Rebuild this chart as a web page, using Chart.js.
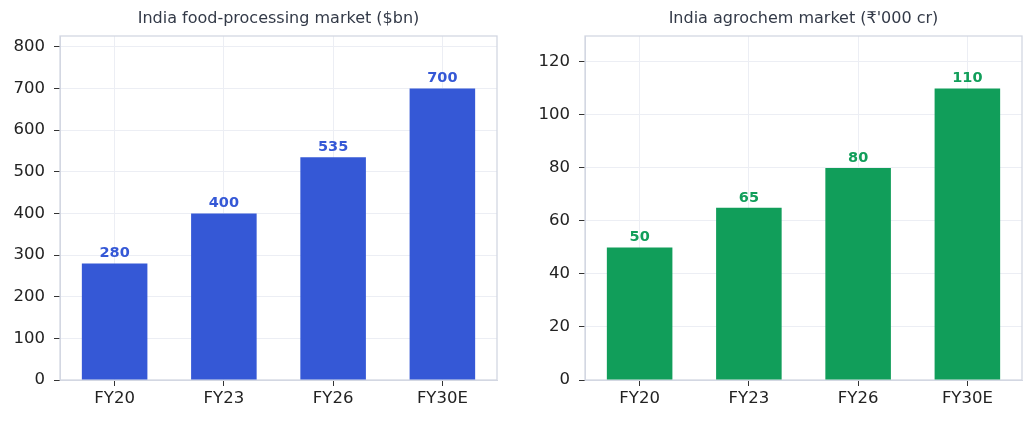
<!DOCTYPE html>
<html>
<head>
<script src="https://cdn.jsdelivr.net/npm/chart.js@4"></script>
<style>
  body { margin: 0; background: #fff; }
  #wrap { position: relative; width: 1035px; height: 423px; }
  canvas { position: absolute; top: 0; }
</style>
</head>
<body>
<div id="wrap">
  <canvas id="left" width="517" height="423" style="left:0"></canvas>
  <canvas id="right" width="518" height="423" style="left:517px"></canvas>
</div>
<script>
// data
const years = ['FY20', 'FY23', 'FY26', 'FY30E'];
const foodValues = [280, 400, 535, 700];
const agroValues = [50, 65, 80, 110];
const foodTitle = 'India food-processing market ($bn)';
const agroTitle = "India agrochem market (₹'000 cr)";

const FONT = "'DejaVu Sans', sans-serif";

// full frame around plot area + value labels above bars
const framePlugin = {
  id: 'frame',
  beforeDatasetsDraw(chart) {
    const a = chart.chartArea, c = chart.ctx;
    c.save();
    c.strokeStyle = '#d3d7e2';
    c.lineWidth = 1.3;
    c.strokeRect(a.left, a.top, a.right - a.left, a.bottom - a.top);
    c.restore();
  },
  afterDatasetsDraw(chart) {
    const c = chart.ctx;
    const ds = chart.data.datasets[0];
    c.save();
    c.font = 'bold 14.5px ' + FONT;
    c.fillStyle = ds.backgroundColor;
    c.textAlign = 'center';
    c.textBaseline = 'alphabetic';
    chart.getDatasetMeta(0).data.forEach((bar, i) => {
      c.fillText(ds.data[i], bar.x, bar.y - 6);
    });
    c.restore();
  }
};

function makeChart(id, title, values, color, step, yWidth, padRight) {
  const top = Math.max(...values) * 1.18;
  new Chart(document.getElementById(id), {
    type: 'bar',
    data: {
      labels: years,
      datasets: [{ data: values, backgroundColor: color, barPercentage: 0.6, categoryPercentage: 1 }]
    },
    options: {
      responsive: false,
      animation: false,
      layout: { padding: { left: 0, right: padRight, top: 0, bottom: 0 } },
      plugins: {
        legend: { display: false },
        tooltip: { enabled: false },
        title: {
          display: true, text: title, color: '#333a48', fullSize: false,
          font: { family: FONT, size: 16, weight: 'normal' },
          padding: { top: 9, bottom: 7.8 }
        }
      },
      scales: {
        x: {
          offset: true,
          grid: { offset: false, color: '#eceef4', tickColor: '#333', tickLength: 6, lineWidth: 1 },
          border: { color: '#d3d7e2' },
          ticks: { color: '#222', font: { family: FONT, size: 16.5 }, padding: 3 },
          afterFit(s) { s.height = 43; }
        },
        y: {
          min: 0, max: top,
          grid: { color: '#eceef4', tickColor: '#333', tickLength: 6 },
          border: { color: '#d3d7e2' },
          ticks: { stepSize: step, color: '#222', font: { family: FONT, size: 16.5 }, padding: 9 },
          afterBuildTicks(s) {
            const t = [];
            for (let v = 0; v <= top; v += step) t.push({ value: v });
            s.ticks = t;
          },
          afterFit(s) { s.width = yWidth; }
        }
      }
    },
    plugins: [framePlugin]
  });
}

makeChart('left', foodTitle, foodValues, '#3558d6', 100, 60, 20);
makeChart('right', agroTitle, agroValues, '#119e5a', 20, 68, 13);
</script>
</body>
</html>
